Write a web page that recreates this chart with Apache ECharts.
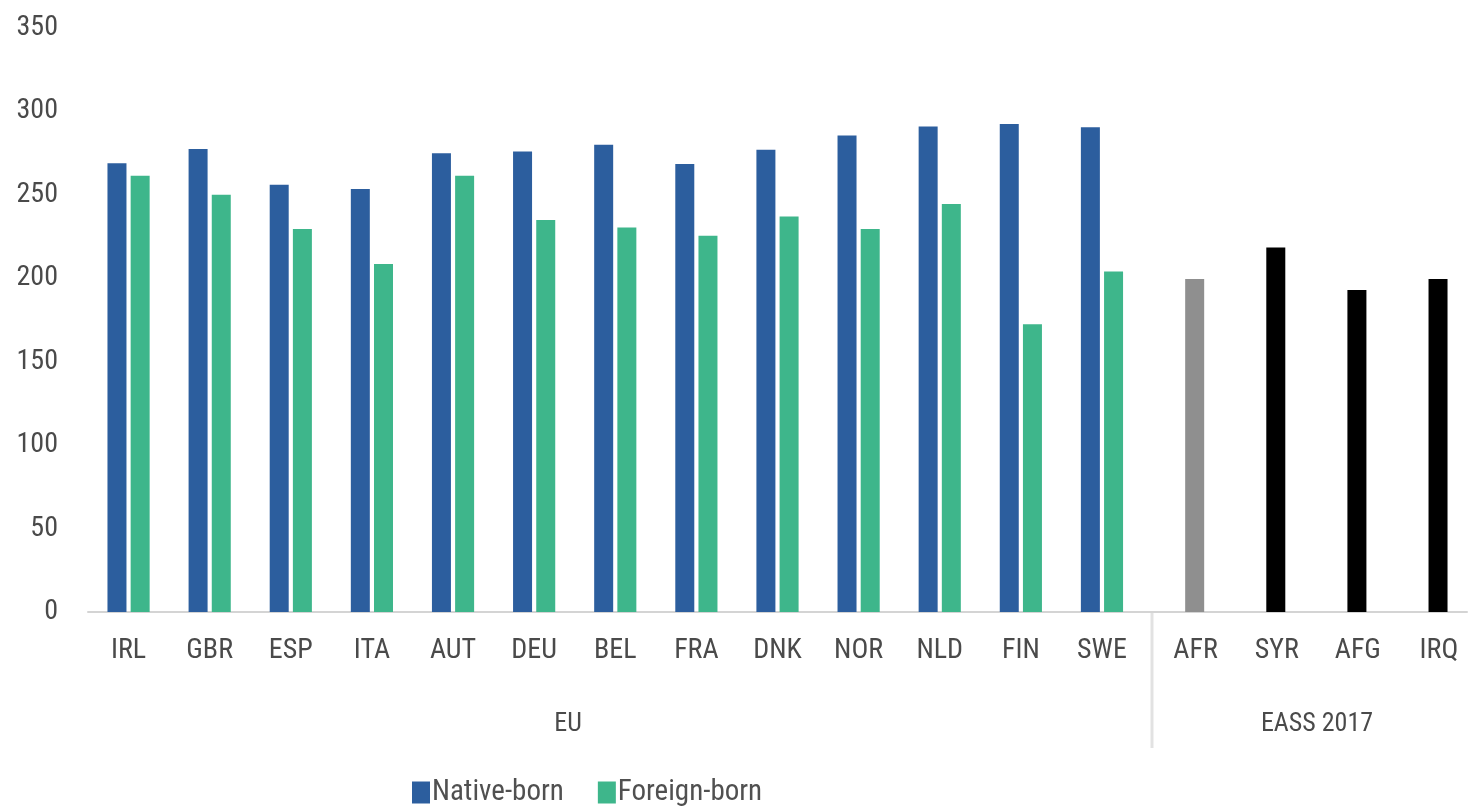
<!DOCTYPE html>
<html>
<head>
<meta charset="utf-8">
<script src="https://cdn.jsdelivr.net/npm/echarts@6/dist/echarts.min.js"></script>
<style>
html,body{margin:0;padding:0;background:#fff;}
#chart{width:1469px;height:807px;}
</style>
</head>
<body>
<div id="chart"></div>
<script>
const categories = ['IRL','GBR','ESP','ITA','AUT','DEU','BEL','FRA','DNK','NOR','NLD','FIN','SWE','AFR','SYR','AFG','IRQ'];
const nativeBorn = [269, 277.5, 256, 253.5, 275, 276, 280, 268.5, 277, 285.5, 291, 292.5, 290.5, null, null, null, null];
const foreignBorn = [261.5, 250, 229.5, 208.5, 261.5, 235, 230.5, 225.5, 237, 229.5, 244.5, 172.5, 204];
const eassCategories = ['AFR','SYR','AFG','IRQ'];
const eassValues = [199.5, 218.5, 193, 199.5];
const eassColors = ['#8f8f8f', '#000000', '#000000', '#000000'];
const yTicks = [0, 50, 100, 150, 200, 250, 300, 350];
const groups = [{name: 'EU', x: 568}, {name: 'EASS 2017', x: 1317}];

const FONT = "'Liberation Sans Narrow', 'Roboto Condensed', 'DejaVu Sans Condensed', 'Liberation Sans', sans-serif";
const BLUE = '#2C5E9E', GREEN = '#3EB68B';

const foreignData = foreignBorn.map(v => v).concat(
  eassValues.map((v, i) => ({value: v, itemStyle: {color: eassColors[i]}}))
);

const chart = echarts.init(document.getElementById('chart'), null, {renderer: 'canvas'});
chart.setOption({
  animation: false,
  backgroundColor: '#ffffff',
  grid: {left: 88, right: 2, top: 28, bottom: 195, containLabel: false},
  legend: {
    left: 407, top: 773,
    itemWidth: 18, itemHeight: 22, itemGap: 34,
    icon: 'rect',
    textStyle: {fontFamily: FONT, fontSize: 29, color: '#505050', padding: [0, 0, 0, -3]},
    data: ['Native-born', 'Foreign-born']
  },
  xAxis: {
    type: 'category',
    data: categories,
    axisLine: {lineStyle: {color: '#d4d4d4', width: 2}},
    axisTick: {show: false},
    axisLabel: {
      interval: 0, hideOverlap: false,
      fontFamily: FONT, fontSize: 28, color: '#4a4a4a', margin: 25,
      formatter: v => eassCategories.indexOf(v) >= 0 ? '{e|' + v + '}' : v,
      rich: {e: {fontFamily: FONT, fontSize: 28, color: '#4a4a4a', padding: [0, 0, 0, 25]}}
    }
  },
  yAxis: {
    type: 'value',
    min: yTicks[0], max: yTicks[yTicks.length - 1], interval: 50,
    axisLine: {show: false},
    axisTick: {show: false},
    splitLine: {show: false},
    axisLabel: {fontFamily: FONT, fontSize: 28, color: '#4a4a4a', margin: 30}
  },
  series: [
    {name: 'Native-born', type: 'bar', data: nativeBorn, barWidth: 19, barGap: '22%',
     itemStyle: {color: BLUE}},
    {name: 'Foreign-born', type: 'bar', data: foreignData, barWidth: 19, barGap: '22%',
     itemStyle: {color: GREEN}}
  ],
  graphic: [
    {type: 'line', shape: {x1: 1152, y1: 613, x2: 1152, y2: 748},
     style: {stroke: '#e2e2e2', lineWidth: 3}},
    ...groups.map(g => ({
      type: 'text', x: g.x, y: 724,
      style: {text: g.name, font: '26px ' + FONT, fill: '#4a4a4a', textAlign: 'center', textVerticalAlign: 'middle'}
    }))
  ]
});
</script>
</body>
</html>
